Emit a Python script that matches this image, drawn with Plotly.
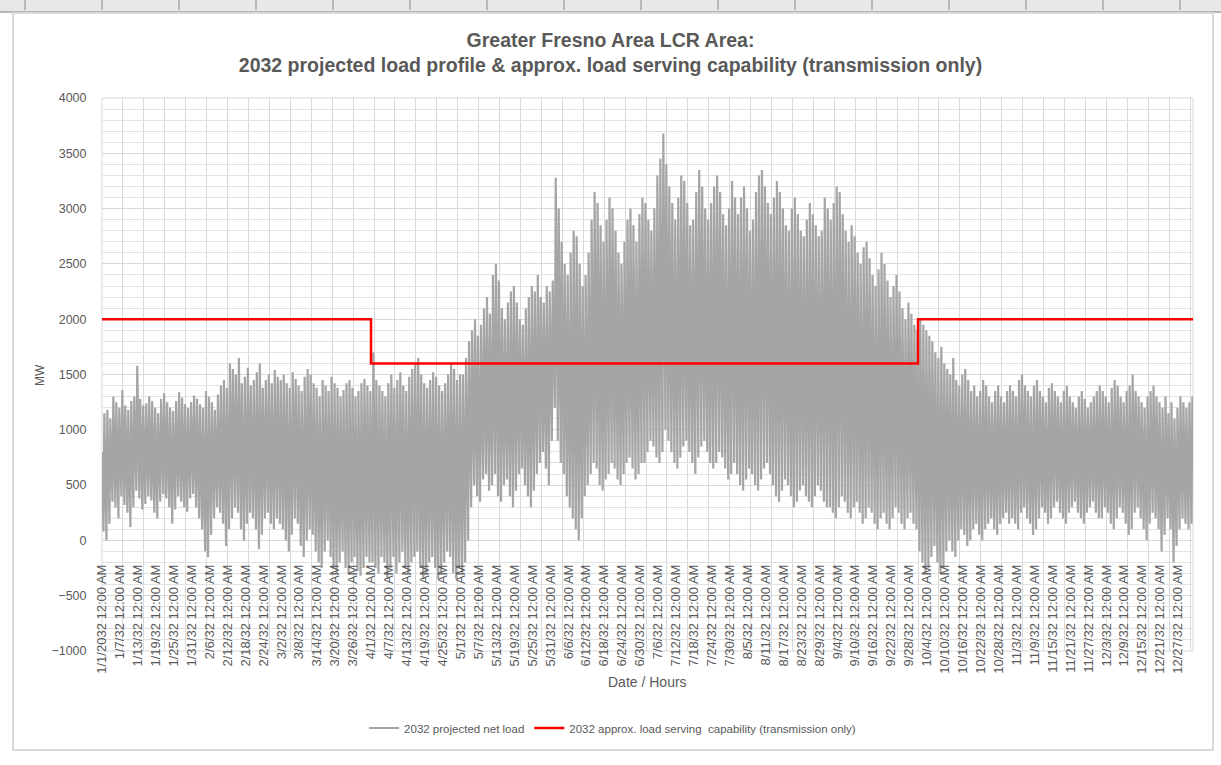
import plotly.graph_objects as go

# ---- data -------------------------------------------------------------
# Hourly net load is summarised by each day's solar-hour minimum and
# evening peak (MW); one list per month.
low_jan = [80, 0, 150, 350, 300, 200, 400, 320, 250, 120, 300, 450, 380, 280, 330, 400,
           360, 250, 200, 350, 420, 380, 300, 150, 280, 400, 350, 300, 260, 380, 420]
peak_jan = [1150, 1180, 1100, 1300, 1250, 1200, 1360, 1220, 1180, 1260, 1300, 1580, 1280,
            1220, 1240, 1300, 1260, 1200, 1150, 1280, 1330, 1250, 1200, 1170, 1260, 1340,
            1290, 1230, 1200, 1250, 1310]
low_feb = [300, 200, 100, -100, -150, 50, 200, 300, 250, 150, -50, 100, 200, 300, 250, 100,
           0, 150, 250, 200, 100, -80, 50, 200, 250, 150, 100, 200]
peak_feb = [1280, 1230, 1200, 1350, 1300, 1250, 1180, 1320, 1400, 1450, 1380, 1600, 1550,
            1500, 1650, 1420, 1480, 1560, 1400, 1450, 1520, 1600, 1380, 1450, 1500, 1420,
            1540, 1480]
low_mar = [150, 100, 0, -100, 50, 200, 150, -50, -150, 0, 100, 50, -100, -200, -250, -100,
           0, -150, -250, -300, -200, -100, -250, -300, -200, -150, -280, -320, -250, -150, -200]
peak_mar = [1450, 1500, 1420, 1380, 1520, 1460, 1400, 1350, 1480, 1550, 1500, 1420, 1380,
            1300, 1450, 1400, 1350, 1480, 1420, 1380, 1300, 1360, 1420, 1450, 1380, 1300,
            1350, 1420, 1460, 1400, 1350]
low_apr = [-200, -250, -300, -150, -200, -350, -250, -150, -300, -200, -100, -250, -300, -200,
           -150, -100, -250, -350, -300, -200, -150, -250, -350, -300, -200, -100, -150, -300,
           -350, -250]
peak_apr = [1700, 1450, 1400, 1350, 1300, 1420, 1500, 1380, 1450, 1520, 1400, 1350, 1480,
            1550, 1600, 1650, 1500, 1420, 1380, 1450, 1520, 1480, 1400, 1350, 1420, 1500,
            1600, 1550, 1450, 1500]
low_may = [-300, -200, 0, 300, 500, 400, 350, 550, 600, 450, 500, 600, 400, 350, 500, 550,
           400, 300, 450, 600, 650, 500, 400, 300, 450, 600, 700, 800, 650, 500, 900]
peak_may = [1500, 1650, 1800, 1900, 2000, 1850, 1950, 2100, 2200, 2050, 2400, 2500, 2350,
            2100, 2000, 2150, 2250, 2300, 2150, 2000, 1950, 2100, 2200, 2300, 2250, 2400,
            2200, 2150, 2300, 2250, 2350]
low_jun = [1200, 900, 700, 600, 400, 300, 200, 100, 0, 200, 400, 500, 600, 700, 650, 500,
           450, 550, 600, 700, 650, 550, 500, 600, 700, 750, 650, 550, 600, 700]
peak_jun = [3280, 3000, 2700, 2500, 2400, 2600, 2800, 2750, 2500, 2300, 2400, 2600, 2900,
            3150, 3050, 2850, 2700, 2900, 3100, 3000, 2800, 2600, 2500, 2700, 2900, 3000,
            2850, 2700, 2950, 3100]
low_jul = [700, 800, 900, 850, 750, 700, 800, 1000, 900, 800, 700, 650, 750, 850, 900, 800,
           700, 600, 750, 850, 900, 800, 700, 650, 700, 800, 750, 650, 550, 600, 700]
peak_jul = [3050, 2900, 2800, 3000, 3300, 3450, 3680, 3400, 3200, 3050, 2900, 3100, 3300,
            3250, 3050, 2850, 2900, 3150, 3350, 3200, 3000, 2900, 3050, 3200, 3300, 3150,
            2950, 2850, 3000, 3250, 3100]
low_aug = [600, 500, 450, 550, 650, 600, 500, 450, 550, 650, 700, 600, 500, 400, 350, 450,
           550, 500, 400, 300, 350, 450, 500, 400, 350, 300, 400, 500, 450, 350, 300]
peak_aug = [2950, 3100, 3200, 3000, 2800, 2900, 3150, 3300, 3350, 3200, 3050, 2950, 3100,
            3250, 3150, 3000, 2850, 2800, 3000, 3100, 2950, 2800, 2750, 2900, 3050, 2950,
            2850, 2750, 2800, 3100, 3000]
low_sep = [300, 250, 200, 300, 400, 350, 250, 200, 300, 350, 250, 150, 200, 300, 250, 150,
           100, 200, 250, 150, 100, 200, 300, 250, 150, 100, 200, 250, 150, 100]
peak_sep = [2900, 3050, 3200, 3150, 2950, 2800, 2700, 2850, 2750, 2600, 2500, 2650, 2700,
            2550, 2400, 2300, 2450, 2600, 2500, 2350, 2200, 2300, 2400, 2250, 2100, 2000,
            2150, 2050, 1950, 1900]
low_oct = [-100, -200, -300, -250, -150, -50, -200, -300, -250, -100, 0, -100, -150, 0, 100,
           50, -50, 0, 100, 150, 50, 0, 100, 150, 200, 100, 50, 150, 200, 250, 150]
peak_oct = [2000, 1950, 1900, 1850, 1800, 1700, 1650, 1750, 1600, 1550, 1500, 1650, 1450,
            1400, 1500, 1550, 1450, 1350, 1400, 1300, 1350, 1450, 1400, 1300, 1250, 1350,
            1400, 1300, 1250, 1350, 1400]
low_nov = [200, 150, 100, 250, 300, 200, 150, 50, 100, 200, 300, 250, 150, 200, 300, 350,
           250, 200, 150, 250, 300, 350, 250, 200, 150, 250, 300, 350, 250, 200]
peak_nov = [1350, 1300, 1450, 1500, 1400, 1350, 1300, 1400, 1450, 1350, 1300, 1250, 1380,
            1420, 1350, 1300, 1250, 1350, 1400, 1300, 1250, 1200, 1300, 1350, 1280, 1200,
            1250, 1300, 1350, 1400]
low_dec = [200, 300, 250, 150, 100, 200, 300, 250, 150, 50, 100, 250, 300, 200, 100, 0, 150,
           250, 200, 100, -100, 50, 200, 100, -200, -50, 100, 200, 150, 100, 150]
peak_dec = [1350, 1300, 1250, 1380, 1450, 1400, 1300, 1250, 1350, 1400, 1500, 1350, 1300,
            1250, 1200, 1300, 1350, 1400, 1300, 1250, 1200, 1300, 1150, 1250, 1100, 1200,
            1300, 1250, 1200, 1250, 1300]
start_load_mw = 800

# Load serving capability (transmission only): step changes by hour of year
cap_start_hour = [0, 2160, 6552, 8760]
cap_mw = [2000, 1600, 2000, 2000]

tick_labels = [
    "1/1/2032 12:00 AM", "1/7/32 12:00 AM", "1/13/32 12:00 AM", "1/19/32 12:00 AM",
    "1/25/32 12:00 AM", "1/31/32 12:00 AM", "2/6/32 12:00 AM", "2/12/32 12:00 AM",
    "2/18/32 12:00 AM", "2/24/32 12:00 AM", "3/2/32 12:00 AM", "3/8/32 12:00 AM",
    "3/14/32 12:00 AM", "3/20/32 12:00 AM", "3/26/32 12:00 AM", "4/1/32 12:00 AM",
    "4/7/32 12:00 AM", "4/13/32 12:00 AM", "4/19/32 12:00 AM", "4/25/32 12:00 AM",
    "5/1/32 12:00 AM", "5/7/32 12:00 AM", "5/13/32 12:00 AM", "5/19/32 12:00 AM",
    "5/25/32 12:00 AM", "5/31/32 12:00 AM", "6/6/32 12:00 AM", "6/12/32 12:00 AM",
    "6/18/32 12:00 AM", "6/24/32 12:00 AM", "6/30/32 12:00 AM", "7/6/32 12:00 AM",
    "7/12/32 12:00 AM", "7/18/32 12:00 AM", "7/24/32 12:00 AM", "7/30/32 12:00 AM",
    "8/5/32 12:00 AM", "8/11/32 12:00 AM", "8/17/32 12:00 AM", "8/23/32 12:00 AM",
    "8/29/32 12:00 AM", "9/4/32 12:00 AM", "9/10/32 12:00 AM", "9/16/32 12:00 AM",
    "9/22/32 12:00 AM", "9/28/32 12:00 AM", "10/4/32 12:00 AM", "10/10/32 12:00 AM",
    "10/16/32 12:00 AM", "10/22/32 12:00 AM", "10/28/32 12:00 AM", "11/3/32 12:00 AM",
    "11/9/32 12:00 AM", "11/15/32 12:00 AM", "11/21/32 12:00 AM", "11/27/32 12:00 AM",
    "12/3/32 12:00 AM", "12/9/32 12:00 AM", "12/15/32 12:00 AM", "12/21/32 12:00 AM",
    "12/27/32 12:00 AM",
]
label_step_hours = 144
grid_step_hours = 168

# ---- series assembly --------------------------------------------------
daily_low = (low_jan + low_feb + low_mar + low_apr + low_may + low_jun +
             low_jul + low_aug + low_sep + low_oct + low_nov + low_dec)
daily_peak = (peak_jan + peak_feb + peak_mar + peak_apr + peak_may + peak_jun +
              peak_jul + peak_aug + peak_sep + peak_oct + peak_nov + peak_dec)
assert len(daily_low) == 365 and len(daily_peak) == 365, (len(daily_low), len(daily_peak))

hours, load = [0], [start_load_mw]
for day, (lo, pk) in enumerate(zip(daily_low, daily_peak)):
    hours += [24 * day + 12, 24 * day + 19]
    load += [lo, pk]

# ---- figure geometry --------------------------------------------------
W, H = 1221, 765
ML, MR, MT, MB = 102, 28, 98, 114
PW, PH = W - ML - MR, H - MT - MB


def fx(px):
    return (px - ML) / PW


def fy(py):
    return (H - MB - py) / PH


GRID = "#d9d9d9"
TXT = "#595959"
FONT = "Liberation Sans"

fig = go.Figure()
fig.add_trace(go.Scatter(
    x=hours, y=load, mode="lines", name="2032 projected net load",
    line=dict(color="#a5a5a5", width=2.2),
))
fig.add_trace(go.Scatter(
    x=cap_start_hour, y=cap_mw, mode="lines", line_shape="hv",
    name="2032 approx. load serving  capability (transmission only)",
    line=dict(color="#ff0000", width=2.5),
))

shapes = [
    # worksheet header strip and column separators
    dict(type="rect", xref="paper", yref="paper", x0=fx(0), x1=fx(W), y0=fy(11), y1=fy(0),
         fillcolor="#e8e8e8", line=dict(width=0), layer="below"),
    dict(type="line", xref="paper", yref="paper", x0=fx(0), x1=fx(W), y0=fy(12), y1=fy(12),
         line=dict(color="#b4b4b4", width=2), layer="below"),
    # chart border
    dict(type="rect", xref="paper", yref="paper", x0=fx(13), x1=fx(1213), y0=fy(750), y1=fy(13),
         line=dict(color=GRID, width=2), layer="below"),
    # plot area border
    dict(type="rect", xref="paper", yref="paper", x0=0, x1=1, y0=0, y1=1,
         line=dict(color=GRID, width=1), layer="below"),
]
for k in range(16):
    xs = 25 + 77 * k
    shapes.append(dict(type="line", xref="paper", yref="paper", x0=fx(xs), x1=fx(xs),
                       y0=fy(10), y1=fy(0), line=dict(color="#a8a8a8", width=1.5),
                       layer="below"))

fig.update_layout(
    width=W, height=H,
    margin=dict(l=ML, r=MR, t=MT, b=MB),
    paper_bgcolor="white", plot_bgcolor="white",
    font=dict(family=FONT, color=TXT),
    title=dict(
        text="Greater Fresno Area LCR Area:<br>2032 projected load profile & approx. load serving capability (transmission only)",
        x=0.5, xanchor="center", xref="container",
        y=1 - 47 / H, yanchor="top", yref="container",
        font=dict(family=FONT, size=19.5, color=TXT, weight="bold"),
    ),
    xaxis=dict(
        range=[0, 8760],
        tickmode="array",
        tickvals=[label_step_hours * i for i in range(len(tick_labels))],
        ticktext=tick_labels,
        tickangle=-90,
        tickfont=dict(family=FONT, size=13, color=TXT),
        ticks="outside", ticklen=18, tickcolor="rgba(0,0,0,0)",
        showgrid=False, zeroline=False, showline=False,
        anchor="free", position=0.2,
        minor=dict(tickmode="linear", tick0=0, dtick=grid_step_hours,
                   showgrid=True, gridcolor=GRID, gridwidth=1.3, ticks=""),
    ),
    yaxis=dict(
        range=[-1000, 4000], tick0=0, dtick=500,
        tickfont=dict(family=FONT, size=12.5, color=TXT),
        ticks="outside", ticklen=12, tickcolor="rgba(0,0,0,0)",
        showgrid=True, gridcolor=GRID, gridwidth=1.3,
        zeroline=False, showline=False,
        minor=dict(dtick=100, showgrid=True, gridcolor="#e2e2e2", gridwidth=1, ticks=""),
    ),
    legend=dict(
        orientation="h", x=0.468, xanchor="center", y=fy(728), yanchor="middle",
        font=dict(family=FONT, size=11.5, color=TXT), bgcolor="rgba(0,0,0,0)",
    ),
    annotations=[
        dict(text="Date / Hours", xref="paper", yref="paper", x=0.5, y=fy(682),
             xanchor="center", yanchor="middle",
             showarrow=False, font=dict(family=FONT, size=14, color=TXT)),
        dict(text="MW", xref="paper", yref="paper", x=fx(40), y=fy(375), textangle=-90,
             xanchor="center", yanchor="middle",
             showarrow=False, font=dict(family=FONT, size=12, color=TXT)),
    ],
    shapes=shapes,
    showlegend=True,
)

fig.write_html("out.html")
